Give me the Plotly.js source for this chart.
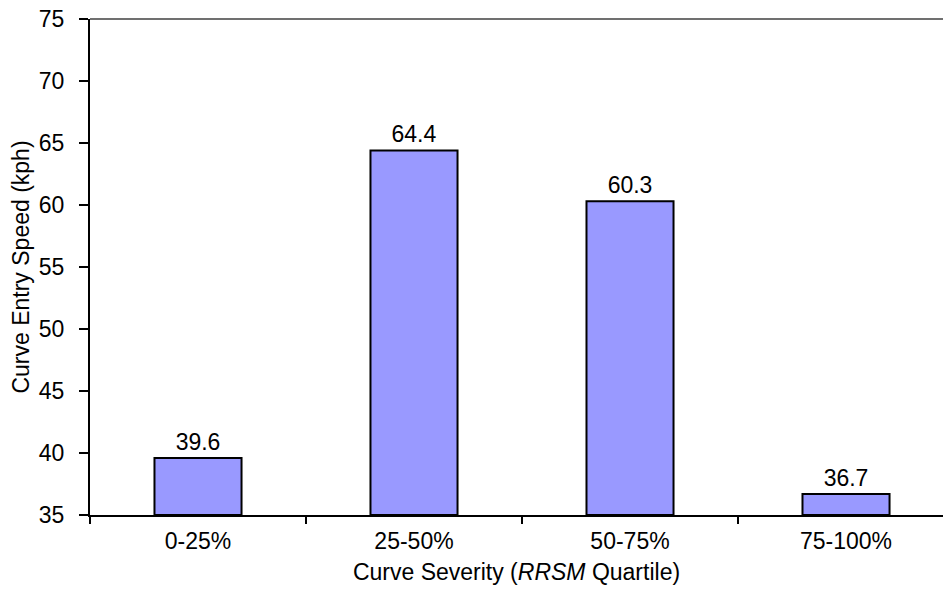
<!DOCTYPE html>
<html>
<head>
<meta charset="utf-8">
<script src="https://cdn.plot.ly/plotly-3.0.1.min.js"></script>
<style>html,body{margin:0;padding:0;background:#fff;}#chart{width:943px;height:591px;}</style>
</head>
<body>
<div id="chart"></div>
<script>
const categories = ["0-25%", "25-50%", "50-75%", "75-100%"];
const speeds = [39.6, 64.4, 60.3, 36.7];
const speedLabels = ["39.6", "64.4", "60.3", "36.7"];

const FONT = "Liberation Sans, Arial, Helvetica, sans-serif";

const trace = {
  type: "bar",
  x: categories,
  y: speeds.map(v => v - 35),
  base: 35,
  width: 0.403,
  marker: {color: "#9999FF", line: {color: "#000", width: 2}},
  text: speedLabels,
  textposition: "outside",
  textfont: {family: FONT, size: 23, color: "#000"},
  cliponaxis: false,
  hoverinfo: "skip"
};

const layout = {
  width: 943, height: 591,
  margin: {l: 90, r: 0, t: 19, b: 76},
  paper_bgcolor: "#fff", plot_bgcolor: "#fff",
  showlegend: false,
  font: {family: FONT, size: 23, color: "#000"},
  xaxis: {
    type: "category",
    range: [-0.5, 3.449],
    showline: true, linecolor: "#000", linewidth: 2,
    ticks: "outside", tickson: "boundaries", ticklen: 7, tickwidth: 2, tickcolor: "#000",
    showgrid: false, zeroline: false,
    tickfont: {family: FONT, size: 23, color: "#000"},
    ticklabelstandoff: 4,
    title: {text: "Curve Severity (<i>RRSM</i> Quartile)", font: {family: FONT, size: 23, color: "#000"}, standoff: 11}
  },
  yaxis: {
    range: [35, 75],
    dtick: 5, tick0: 35,
    showline: true, linecolor: "#000", linewidth: 2,
    ticks: "outside", ticklen: 9, tickwidth: 2, tickcolor: "#000",
    showgrid: false, zeroline: false,
    tickfont: {family: FONT, size: 23, color: "#000"},
    ticklabelstandoff: 10,
    title: {text: "Curve Entry Speed (kph)", font: {family: FONT, size: 23, color: "#000"}, standoff: 3}
  },
  shapes: [{
    type: "line", xref: "paper", yref: "paper",
    x0: 0, x1: 1, y0: 1, y1: 1,
    line: {color: "#707070", width: 2}
  }]
};

Plotly.newPlot("chart", [trace], layout, {staticPlot: true, displayModeBar: false});
</script>
</body>
</html>
